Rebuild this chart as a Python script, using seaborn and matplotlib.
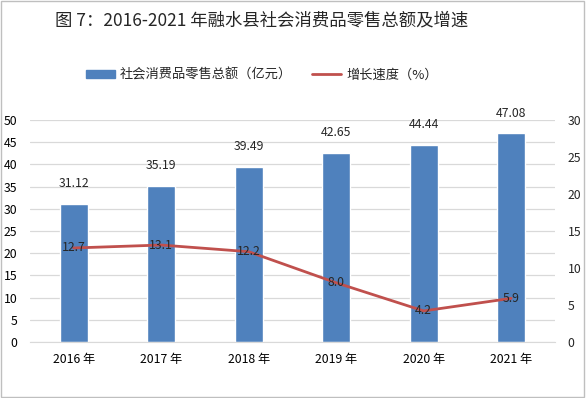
import numpy as np
import pandas as pd
import seaborn as sns
import matplotlib.pyplot as plt
from matplotlib.patches import Rectangle
from matplotlib.lines import Line2D

years = ["2016 年", "2017 年", "2018 年", "2019 年", "2020 年", "2021 年"]
sales = [31.12, 35.19, 39.49, 42.65, 44.44, 47.08]
growth = [12.7, 13.1, 12.2, 8.0, 4.2, 5.9]

bar_color = "#4F81BD"
line_color = "#C0504D"

sns.set_style("white")
plt.rcParams['font.family'] = ['Noto Sans CJK SC', 'DejaVu Sans']

data = pd.DataFrame({"year": years, "sales": sales, "growth": growth})

fig = plt.figure(figsize=(5.86, 3.98), dpi=100)
ax = fig.add_axes([0.051, 0.1407, 0.896, 0.558])

sns.barplot(data=data, x="year", y="sales", color=bar_color, width=0.32,
            saturation=1, ax=ax, zorder=2)
ax.set_ylim(0, 50)
ax.set_yticks(range(0, 51, 5))
ax.set_xlim(-0.5, 5.5)
ax.set(xlabel="", ylabel="")
ax.yaxis.grid(True, color="#D9D9D9", linewidth=0.9, zorder=0)
ax.set_axisbelow(True)
for s in ["top", "right", "left"]:
    ax.spines[s].set_visible(False)
ax.spines["bottom"].set_color("#D9D9D9")
ax.tick_params(axis="both", length=0, labelsize=8.8, colors="#000000")
ax.tick_params(axis="x", pad=8)
ax.tick_params(axis="y", pad=9)

for i, v in enumerate(sales):
    ax.text(i, v + 3.0, f"{v:.2f}", ha="center", va="bottom", fontsize=8.8)

ax2 = ax.twinx()
sns.lineplot(x=np.arange(len(years)), y=growth, color=line_color, linewidth=2,
             ax=ax2, zorder=3)
ax2.set_ylim(0, 30)
ax2.set_yticks(range(0, 31, 5))
for s in ["top", "right", "left", "bottom"]:
    ax2.spines[s].set_visible(False)
ax2.tick_params(axis="y", length=0, labelsize=8.8, pad=9)
for i, v in enumerate(growth):
    ax2.text(i, v, f"{v:.1f}", ha="center", va="center", fontsize=8.8, zorder=4)

fig.text(0.447, 0.948, "图 7：2016-2021 年融水县社会消费品零售总额及增速",
         ha="center", va="center", fontsize=12.5, fontweight="medium")

handles = [Rectangle((0, 0), 1, 1, color=bar_color),
           Line2D([0], [0], color=line_color, linewidth=2)]
fig.legend(handles, ["社会消费品零售总额（亿元）", "增长速度（%）"],
           loc="center", bbox_to_anchor=(0.447, 0.812), ncol=2, frameon=False,
           fontsize=9.5, handlelength=2.2, handleheight=0.5, columnspacing=1.5,
           handletextpad=0.4)

fig.patches.append(Rectangle((0.002, 0.003), 0.995, 0.994, transform=fig.transFigure,
                             fill=False, edgecolor="#BFBFBF", linewidth=1))

fig.savefig("out.png", dpi=100)
